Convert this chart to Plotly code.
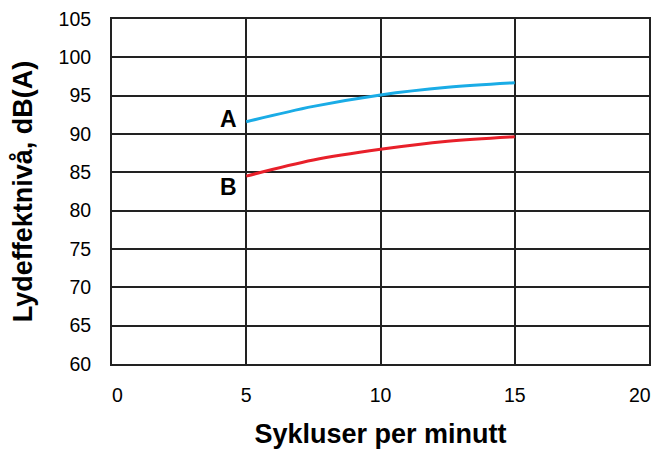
import plotly.graph_objects as go

# curve readings from the chart
cycles = [5, 7.5, 10, 12.5, 15]
level_a = [91.6, 93.6, 95.1, 96.1, 96.7]
level_b = [84.5, 86.6, 88.0, 89.05, 89.65]

x_ticks = [0, 5, 10, 15, 20]
x_labels = ["\u00a0\u00a00", "5", "10", "15", ""]  # last label is drawn separately so it isn't clipped
y_ticks = [60, 65, 70, 75, 80, 85, 90, 95, 100, 105]

FONT = "Liberation Sans, Arial, sans-serif"

fig = go.Figure()
fig.add_trace(go.Scatter(x=cycles, y=level_a, mode="lines",
                         line=dict(color="#1AACE6", width=3, shape="spline")))
fig.add_trace(go.Scatter(x=cycles, y=level_b, mode="lines",
                         line=dict(color="#E8202A", width=3, shape="spline")))

# curve labels
fig.add_annotation(x=cycles[0], y=level_a[0], text="<b>A</b>", showarrow=False,
                   xanchor="right", yanchor="middle", xshift=-7, yshift=3,
                   font=dict(size=23, color="black", family=FONT))
fig.add_annotation(x=cycles[0], y=level_b[0], text="<b>B</b>", showarrow=False,
                   xanchor="right", yanchor="middle", xshift=-7, yshift=-11,
                   font=dict(size=23, color="black", family=FONT))

# right-most x tick label
fig.add_annotation(x=x_ticks[-1], y=0, xref="x", yref="paper", text=str(x_ticks[-1]),
                   showarrow=False, xanchor="right", yanchor="middle", xshift=4, yshift=-31,
                   font=dict(size=19.5, color="black", family=FONT))

axis_common = dict(showgrid=True, gridcolor="#222222", gridwidth=1.5,
                   showline=True, linecolor="#222222", linewidth=2, mirror=True,
                   zeroline=False, ticks="", automargin=False, ticklabeloverflow="allow",
                   tickfont=dict(size=19.5, color="black", family=FONT))

fig.update_xaxes(range=[0, 20], tickvals=x_ticks, ticktext=x_labels, ticklabelstandoff=13,
                 title=dict(text="<b>Sykluser per minutt</b>", standoff=27,
                            font=dict(size=27, color="black", family=FONT)),
                 **axis_common)
fig.update_yaxes(range=[60, 105], tickvals=y_ticks, ticklabelstandoff=15,
                 title=dict(text="<b>Lydeffektnivå, dB(A)</b>", standoff=20,
                            font=dict(size=27, color="black", family=FONT)),
                 **axis_common)

# page body has an 8px margin, so the figure is a bit smaller than the window
fig.update_layout(width=653, height=441, showlegend=False,
                  margin=dict(l=104, r=12, t=11, b=85),
                  plot_bgcolor="white", paper_bgcolor="white",
                  font=dict(family=FONT))

fig.write_html("out.html")
